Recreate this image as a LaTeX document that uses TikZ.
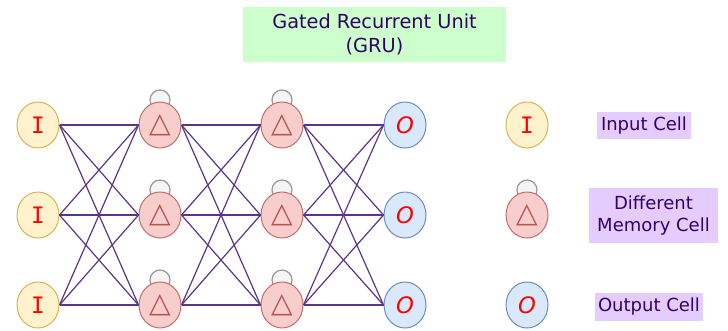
\documentclass[tikz,border=0pt]{standalone}
\usepackage{fontspec}
\setmainfont{DejaVu Sans}
\setmonofont{DejaVu Sans Mono}
\usetikzlibrary{shapes.geometric}

\definecolor{inFill}{HTML}{FFF2CC}
\definecolor{inLine}{HTML}{D6B656}
\definecolor{memFill}{HTML}{F8CECC}
\definecolor{memLine}{HTML}{B85450}
\definecolor{outFill}{HTML}{DAE8FC}
\definecolor{outLine}{HTML}{6C8EBF}
\definecolor{loopFill}{HTML}{F5F5F5}
\definecolor{loopLine}{HTML}{999999}
\definecolor{linkCol}{HTML}{5B3588}
\definecolor{titleFill}{HTML}{CCFFCC}
\definecolor{keyFill}{HTML}{E5CCFF}
\definecolor{keyText}{HTML}{330066}

\tikzset{
  cell/.style={ellipse, draw, line width=0.75pt, minimum width=31.5pt, minimum height=34.5pt, inner sep=0pt},
  incell/.style={cell, draw=inLine, fill=inFill, text=red, font=\fontsize{17}{17}\selectfont\ttfamily},
  memcell/.style={cell, draw=memLine!85, fill=memFill, text=memLine, font=\fontsize{21}{21}\selectfont},
  outcell/.style={cell, draw=outLine, fill=outFill, text=red, font=\fontsize{17}{17}\selectfont\itshape},
  memloop/.style={circle, draw=loopLine, fill=loopFill, line width=0.9pt, minimum size=15pt, inner sep=0pt},
  link/.style={draw=linkCol, line width=0.9pt},
  keybox/.style={fill=keyFill, text=keyText, align=center, inner sep=0pt, font=\fontsize{13.5}{17}\selectfont}
}

\begin{document}
\begin{tikzpicture}[x=0.75pt,y=0.75pt,yscale=-1,xscale=1]
  \useasboundingbox (0,0) rectangle (728,330);

  %Title
  \node [fill=titleFill, text=keyText, align=center, minimum width=197.25pt, minimum height=41.25pt, inner sep=0pt, font=\fontsize{14.5}{18.5}\selectfont] (title) at (374.5,34.5) {Gated Recurrent Unit\\(GRU)};

  %Cells of the network, one row at a time
  \foreach \r/\y in {1/125,2/215,3/305} {
    \node [memloop] (lpa\r) at (160,\y-25) {};
    \node [memloop] (lpb\r) at (282,\y-25) {};
    \node [incell] (in\r) at (38,\y) {I};
    \node [memcell] (ma\r) at (160,\y) {△};
    \node [memcell] (mb\r) at (282,\y) {△};
    \node [outcell] (out\r) at (405,\y) {O};
  }

  %Links between neighbouring layers
  \foreach \a in {1,2,3} {
    \foreach \b in {1,2,3} {
      \draw [link] (in\a.east) -- (ma\b.west);
      \draw [link] (ma\a.east) -- (mb\b.west);
      \draw [link] (mb\a.east) -- (out\b.west);
    }
  }

  %Key
  \node [incell] (keyin) at (527,125) {I};
  \node [memloop] (keyloop) at (527,190) {};
  \node [memcell] (keymem) at (527,215) {△};
  \node [outcell] (keyout) at (527,305) {O};

  \node [keybox, minimum width=70.5pt, minimum height=20.25pt] (lblin) at (644,125.5) {Input Cell};
  \node [keybox, minimum width=96.75pt, minimum height=41.25pt] (lblmem) at (653.5,215.5) {Different\\Memory Cell};
  \node [keybox, minimum width=81pt, minimum height=21pt] (lblout) at (649,307) {Output Cell};
\end{tikzpicture}
\end{document}
